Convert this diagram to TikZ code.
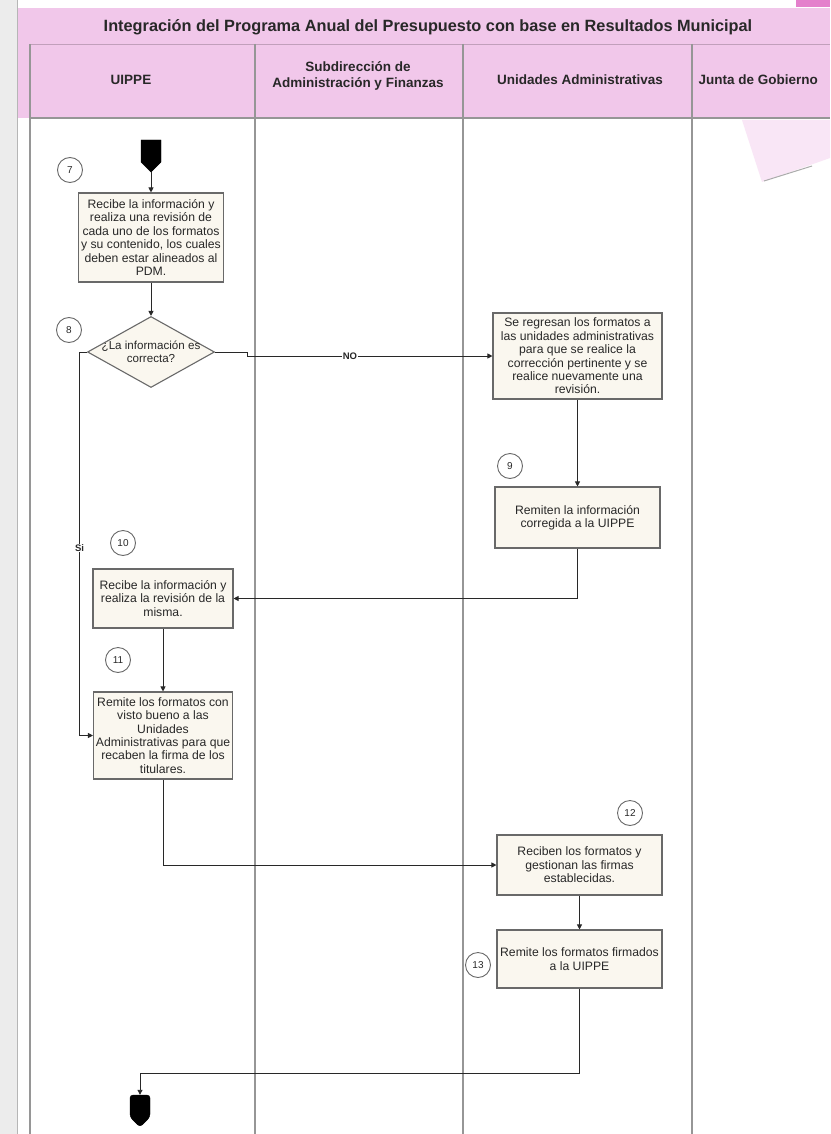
\documentclass[tikz,border=0pt]{standalone}
\usepackage{fontspec}
\setmainfont{Liberation Sans}
\usetikzlibrary{arrows.meta,shapes.geometric,shapes.symbols}
\definecolor{headpink}{RGB}{241,199,234}
\definecolor{tabpink}{RGB}{228,128,204}
\definecolor{boxfill}{RGB}{250,247,239}
\definecolor{boxline}{RGB}{105,105,105}
\definecolor{laneline}{RGB}{150,150,150}
\definecolor{ink}{RGB}{40,40,40}
\definecolor{margin}{RGB}{236,236,236}
\begin{document}
\begin{tikzpicture}[x=1pt,y=-1pt,
  proc/.style={draw=boxline, line width=1.1pt, fill=boxfill, align=center, inner sep=1pt,
    font=\fontsize{12.2}{13.4}\selectfont, text=ink},
  numc/.style={circle, draw=boxline, line width=0.9pt, fill=white, minimum size=25pt,
    inner sep=0pt, font=\fontsize{10}{11}\selectfont, text=ink},
  flow/.style={draw=ink, line width=0.9pt, -{Triangle[length=5pt,width=5pt]}},
  term/.style={signal, signal to=south, fill=black, draw=black, minimum width=20pt,
    minimum height=22pt, inner sep=0pt},
  lane/.style={draw=laneline, line width=1.2pt},
  headtxt/.style={font=\bfseries\fontsize{13.5}{15.5}\selectfont, text=ink, align=center},
  tag/.style={fill=white, inner sep=1pt, font=\bfseries\fontsize{9.5}{10}\selectfont, text=ink}
]
\useasboundingbox (0,0) rectangle (830,1134);

% page and left margin
\fill[white] (0,0) rectangle (830,1134);
\fill[margin] (0,0) rectangle (17,1134);
\draw[laneline!70, line width=0.8pt] (17,0) -- (17,1134);

% pink title band and lane header row
\fill[headpink] (18,8) rectangle (830,118);
\fill[tabpink] (796,0) rectangle (830,7);
\draw[headpink!80!black, line width=0.6pt] (30,44) -- (830,44);
\draw[lane] (30,118) -- (830,118);

% faint note stuck on the last lane
\fill[headpink!45] (742,120) -- (830,120) -- (830,158) -- (762,182) -- cycle;
\draw[laneline!80, line width=1pt] (764,181) -- (812,166);

% swimlane separators
\draw[lane] (30,44) -- (30,1134);
\draw[lane] (255,44) -- (255,1134);
\draw[lane] (463,44) -- (463,1134);
\draw[lane] (692,44) -- (692,1134);

% title and lane names
\node[font=\bfseries\fontsize{16.3}{18}\selectfont, text=ink] (title) at (428,27)
  {Integración del Programa Anual del Presupuesto con base en Resultados Municipal};
\node[headtxt] (h1) at (131,80) {UIPPE};
\node[headtxt] (h2) at (358,76) {Subdirección de\\Administración y Finanzas};
\node[headtxt] (h3) at (580,80) {Unidades Administrativas};
\node[headtxt, anchor=west] (h4) at (695,80) {Junta de Gobierno};

% process steps
\node[term] (start) at (151,151) {};
\node[numc] (n7) at (70,170) {7};
\node[proc, minimum width=145, minimum height=89] (b7) at (151,237.5)
  {Recibe la información y\\realiza una revisión de\\cada uno de los formatos\\y su contenido, los cuales\\deben estar alineados al\\PDM.};
\node[numc] (n8) at (69,330) {8};
\node[diamond, draw=boxline, line width=1.1pt, fill=boxfill, minimum width=127pt,
  minimum height=71pt, inner sep=0pt] (d8) at (151,352) {};
\node[font=\fontsize{11.6}{13}\selectfont, text=ink, align=center] (d8t) at (d8.center)
  {¿La información es\\correcta?};
\node[proc, minimum width=169, minimum height=86] (b8n) at (577.5,356)
  {Se regresan los formatos a\\las unidades administrativas\\para que se realice la\\corrección pertinente y se\\realice nuevamente una\\revisión.};
\node[numc] (n9) at (510,466) {9};
\node[proc, minimum width=165, minimum height=61] (b9) at (577.5,517.5)
  {Remiten la información\\corregida a la UIPPE};
\node[numc] (n10) at (123,543) {10};
\node[proc, minimum width=140, minimum height=59] (b10) at (163,598.5)
  {Recibe la información y\\realiza la revisión de la\\misma.};
\node[numc] (n11) at (118,660) {11};
\node[proc, minimum width=139, minimum height=87] (b11) at (163,735.5)
  {Remite los formatos con\\visto bueno a las\\Unidades\\Administrativas para que\\recaben la firma de los\\titulares.};
\node[numc] (n12) at (630,813) {12};
\node[proc, minimum width=165, minimum height=60] (b12) at (579.5,865)
  {Reciben los formatos y\\gestionan las firmas\\establecidas.};
\node[proc, minimum width=165, minimum height=58] (b13) at (579.5,959)
  {Remite los formatos firmados\\a la UIPPE};
\node[numc] (n13) at (478,965) {13};
\node[term, rounded corners=3pt] (end) at (140,1106) {};

% connectors
\draw[flow] (start.south) -- (b7.north);
\draw[flow] (b7.south) -- (d8.north);
\draw[flow] (d8.west) -- ++(-8,0) |- (b11.west);
\node[tag] (si) at (79.5,548) {Si};
\draw[flow] (d8.east) -- ++(32,0) |- (b8n.west);
\node[tag] (no) at (350,356) {NO};
\draw[flow] (b8n.south) -- (b9.north);
\draw[flow] (b9.south) |- (b10.east);
\draw[flow] (b10.south) -- (b11.north);
\draw[flow] (b11.south) |- (b12.west);
\draw[flow] (b12.south) -- (b13.north);
\coordinate (ret) at (579.5,1073);
\draw[flow] (b13.south) -- (ret) -| (end.north);
\end{tikzpicture}
\end{document}
